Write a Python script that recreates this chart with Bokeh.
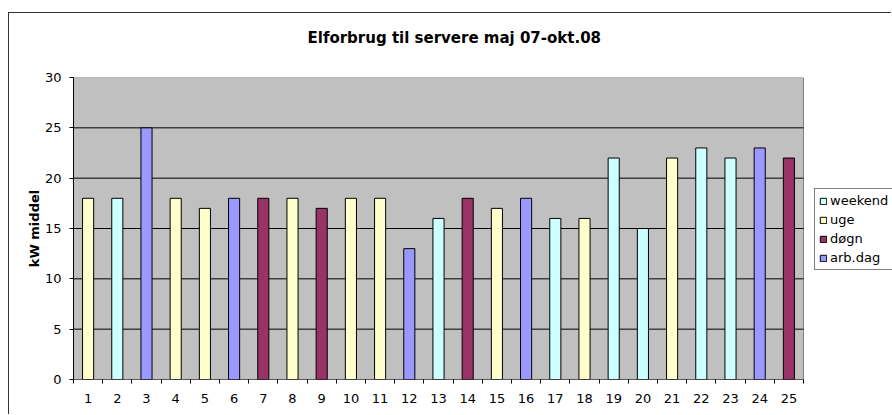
from bokeh.plotting import figure
from bokeh.models import ColumnDataSource, FixedTicker, Legend, LegendItem, Title
from bokeh.embed import file_html
from bokeh.resources import INLINE

# ---- data ----
categories = [str(i) for i in range(1, 26)]
values = [18, 18, 25, 18, 17, 18, 18, 18, 17, 18, 18, 13, 16, 18, 17, 18, 16, 16, 22, 15, 22, 23, 22, 23, 22]
types = ["uge", "weekend", "arb.dag", "uge", "uge", "arb.dag", "døgn", "uge", "døgn", "uge",
         "uge", "arb.dag", "weekend", "døgn", "uge", "arb.dag", "weekend", "uge", "weekend", "weekend",
         "uge", "weekend", "weekend", "arb.dag", "døgn"]
legend_order = ["weekend", "uge", "døgn", "arb.dag"]
type_colors = {"weekend": "#CCFFFF", "uge": "#FFFFCC", "døgn": "#993366", "arb.dag": "#9999FF"}
y_ticks = [0, 5, 10, 15, 20, 25, 30]
title_text = "Elforbrug til servere maj 07-okt.08"
y_label = "kW middel"

FONT = "DejaVu Sans"

n = len(categories)
xpos = list(range(1, n + 1))
x_lo, x_hi = 0.5, n + 0.5
y_lo, y_hi = y_ticks[0], y_ticks[-1]

# the plotting area (grey) is 730 px wide; the frame extends to the right edge to host the legend
PLOT_W, FRAME_W = 730, 819
x_end = x_lo + n * FRAME_W / PLOT_W

source = ColumnDataSource(dict(
    x=xpos, top=values, type=types,
    color=[type_colors[t] for t in types],
))

p = figure(width=883, height=402, output_backend="svg", toolbar_location=None,
           x_range=(x_lo, x_end), y_range=(y_lo, y_hi),
           min_border_left=64, min_border_top=64, min_border_bottom=36, min_border_right=0)
p.margin = (12, 0, 0, 8)
p.styles = {"border-left": "1px solid #333333", "border-top": "1px solid #333333"}

p.background_fill_color = "white"
p.border_fill_color = "white"
p.outline_line_color = None
p.xgrid.visible = False
p.ygrid.visible = False

# grey plot area
p.quad(left=[x_lo], right=[x_hi], bottom=[y_lo], top=[y_hi],
       fill_color="#C0C0C0", line_color="#808080", line_width=1)
# horizontal gridlines
grid_y = y_ticks[1:-1]
p.segment(x0=[x_lo] * len(grid_y), x1=[x_hi] * len(grid_y), y0=grid_y, y1=grid_y,
          line_color="black", line_width=1)
# x axis line (only under the plotting area)
p.segment(x0=[x_lo], x1=[x_hi], y0=[y_lo], y1=[y_lo], line_color="black", line_width=1)

r = p.vbar(x="x", top="top", width=0.38, bottom=0, source=source,
           fill_color="color", line_color="black", line_width=1)

# axes
xa = p.xaxis[0]
xa.ticker = FixedTicker(ticks=xpos, minor_ticks=[i + 0.5 for i in range(0, n + 1)])
xa.major_label_overrides = {i: c for i, c in zip(xpos, categories)}
xa.major_tick_out = 0
xa.major_tick_in = 0
xa.minor_tick_out = 4
xa.minor_tick_in = 0
xa.minor_tick_line_color = "black"
xa.axis_line_color = None
xa.major_label_text_font = FONT
xa.major_label_text_font_size = "13px"
xa.major_label_text_color = "black"
xa.major_label_standoff = 10

ya = p.yaxis[0]
ya.ticker = FixedTicker(ticks=y_ticks)
ya.major_tick_out = 4
ya.major_tick_in = 0
ya.minor_tick_out = 0
ya.minor_tick_in = 0
ya.major_tick_line_color = "black"
ya.axis_line_color = "black"
ya.major_label_text_font = FONT
ya.major_label_text_font_size = "13px"
ya.major_label_text_color = "black"
ya.major_label_standoff = 8
ya.axis_label = y_label
ya.axis_label_text_font = FONT
ya.axis_label_text_font_size = "13px"
ya.axis_label_text_font_style = "bold"
ya.axis_label_text_color = "black"
ya.axis_label_standoff = 0

# spacer panel nearest the plot area (white, blank), then the title above it
p.add_layout(Title(text=" ", text_font_size="10px", text_color="white", standoff=18), "above")
p.add_layout(Title(text=title_text, align="left", offset=234, standoff=0,
                   text_font=FONT, text_font_size="15px", text_font_style="bold",
                   text_color="black"), "above")

# legend
items = []
for t in legend_order:
    items.append(LegendItem(label=t, renderers=[r], index=types.index(t)))
legend = Legend(items=items, location=(741, 109), orientation="vertical",
                border_line_color="black", border_line_width=1, background_fill_color="white",
                background_fill_alpha=1.0,
                label_text_font=FONT, label_text_font_size="13px", label_text_color="black",
                glyph_width=8, glyph_height=8, label_standoff=3, label_height=14,
                spacing=4, padding=4, margin=0)
p.add_layout(legend, "center")

open("out.html", "w").write(file_html(p, INLINE))
